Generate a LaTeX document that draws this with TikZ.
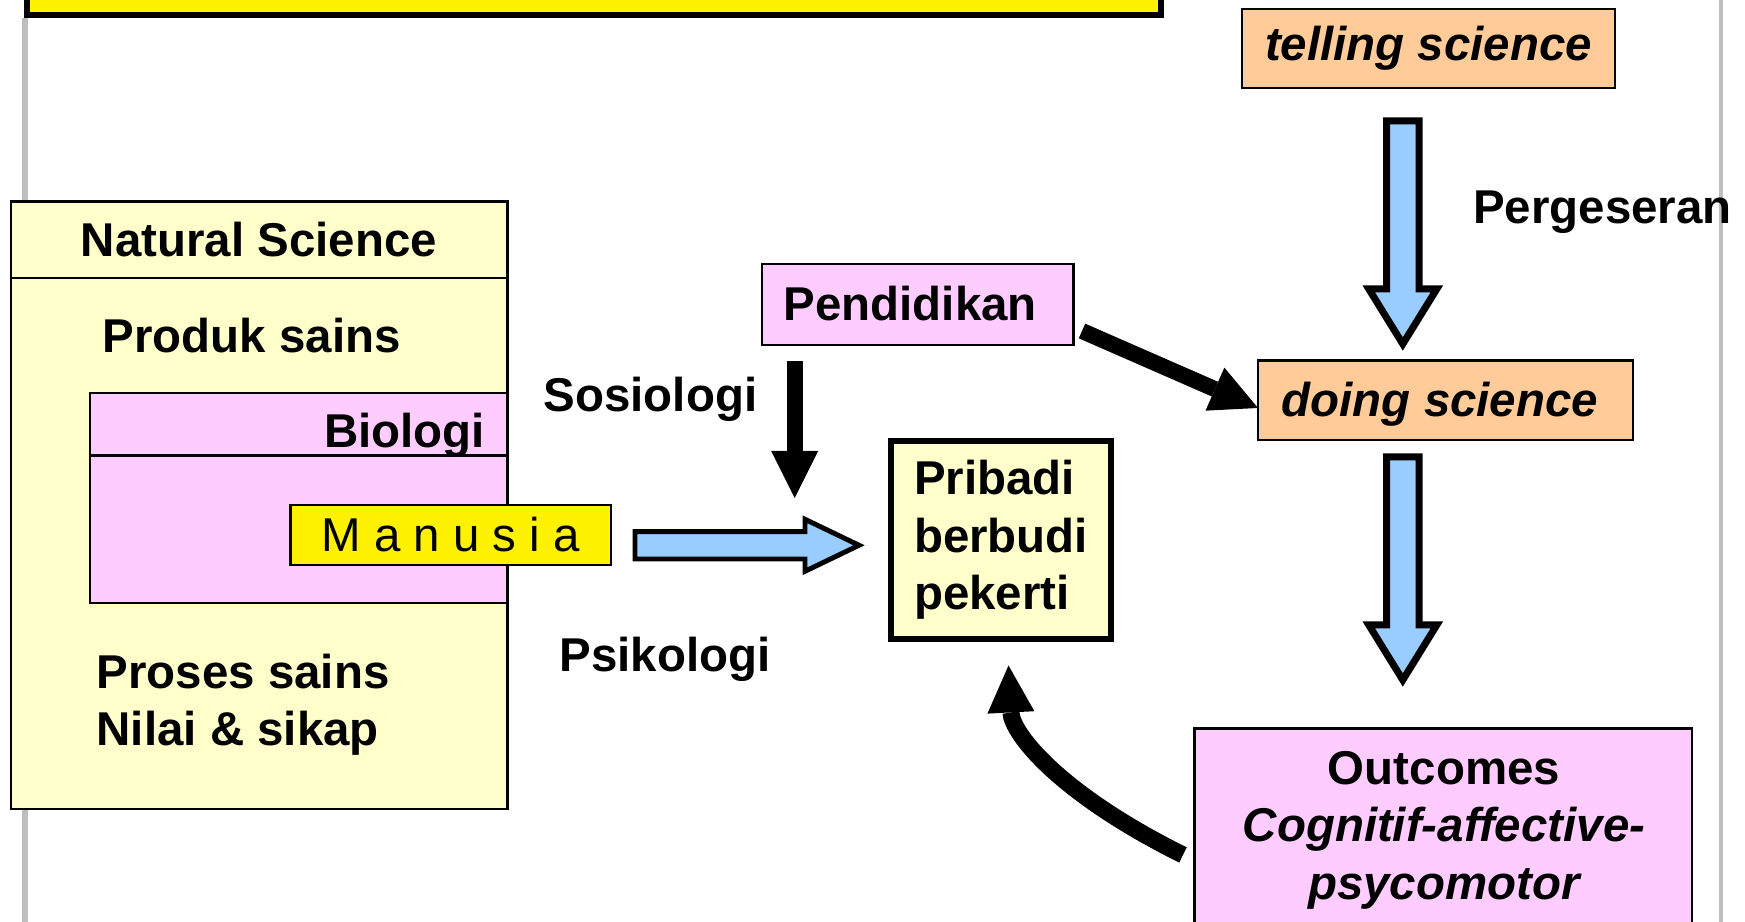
\documentclass[tikz,border=0pt]{standalone}
\usepackage{fontspec}
\setmainfont{Liberation Sans}
\usetikzlibrary{arrows.meta}
\definecolor{paleyellow}{HTML}{FFFFCC}
\definecolor{palepink}{HTML}{FFCCFF}
\definecolor{paleorange}{HTML}{FFCC99}
\definecolor{skyblue}{HTML}{99CCFF}
\begin{document}
\begin{tikzpicture}[
  every node/.style={font=\fontsize{13.5}{16.4}\selectfont\bfseries, inner sep=0pt},
  box/.style={draw, line width=0.7pt, rectangle},
  blockarrow/.style={draw, line width=2pt, fill=skyblue, line join=miter},
  thickarrow/.style={line width=0.16cm, -{Triangle[length=0.47cm,width=0.47cm,line width=0pt]}}
]
  \useasboundingbox (0,0) rectangle (17.45,9.22);
  \clip (0,0) rectangle (17.45,9.22);
  % slide edges
  \draw [black!25, line width=0.05cm] (0.25,9.04) -- (0.25,0);
  \draw [black!25, line width=0.04cm] (17.21,9.22) -- (17.21,0);
  % title bar
  \node [box, line width=1.6pt, fill=yellow, minimum width=11.34cm, minimum height=0.6cm] (titlebar) at (5.94,9.37) {};
  % natural science block
  \node [box, fill=paleyellow, minimum width=4.965cm, minimum height=6.075cm] (nsbox) at (2.5925,4.1675) {};
  \draw [line width=0.7pt] ([yshift=-0.78cm]nsbox.north west) -- ([yshift=-0.78cm]nsbox.north east);
  \node [anchor=base] (nstitle) at (2.59,6.65) {Natural Science};
  \node [anchor=base west] (produk) at (1.02,5.693) {Produk sains};
  \node [box, fill=palepink, minimum width=4.175cm, minimum height=2.1cm] (biobox) at (2.9875,4.24) {};
  \draw [line width=0.7pt] ([yshift=-0.637cm]biobox.north west) -- ([yshift=-0.637cm]biobox.north east);
  \node [anchor=base east] (biologi) at (4.856,4.74) {Biologi};
  \node [box, fill=yellow, minimum width=3.204cm, minimum height=0.6cm, font=\fontsize{13.5}{16.4}\selectfont] (manusia) at (4.508,3.87) {M a n u s i a};
  \node [anchor=base west] (proses) at (0.96,2.337) {Proses sains};
  \node [anchor=base west] (nilai) at (0.96,1.76) {Nilai \& sikap};
  % middle part
  \node [anchor=base west] (sosiologi) at (5.43,5.103) {Sosiologi};
  \node [anchor=base west] (psikologi) at (5.59,2.503) {Psikologi};
  \node [box, fill=palepink, minimum width=3.115cm, minimum height=0.81cm] (pend) at (9.1775,6.175) {};
  \node [anchor=base west] (pendtext) at (7.83,6.013) {Pendidikan};
  \coordinate (downtop) at (7.947,5.61);
  \coordinate (downtip) at (7.947,4.24);
  \draw [thickarrow] (downtop) -- (downtip);
  \coordinate (mantail) at (6.35,3.767);
  \draw [blockarrow, line width=1.4pt] (mantail) ++(0,0.137) -- ++(1.70,0) -- ++(0,0.123) -- ++(0.54,-0.26)
    -- ++(-0.54,-0.26) -- ++(0,0.123) -- ++(-1.70,0) -- cycle;
  \node [box, line width=1.6pt, fill=paleyellow, minimum width=2.2cm, minimum height=1.98cm, align=left] (pribadi) at (10.01,3.82) {Pribadi\\berbudi\\pekerti};
  % right part
  \node [box, fill=paleorange, minimum width=3.73cm, minimum height=0.79cm, font=\fontsize{13.5}{16.4}\selectfont\bfseries\itshape] (telling) at (14.285,8.735) {telling science};
  \coordinate (shiftonetop) at (14.028,8.01);
  \draw [blockarrow] (shiftonetop) ++(-0.1625,0) -- ++(0.325,0) -- ++(0,-1.68) -- ++(0.1775,0) -- ++(-0.34,-0.55)
    -- ++(-0.34,0.55) -- ++(0.1775,0) -- cycle;
  \node [anchor=base west] (pergeseran) at (14.726,6.98) {Pergeseran};
  \node [box, fill=paleorange, minimum width=3.75cm, minimum height=0.793cm] (doing) at (14.455,5.2165) {};
  \node [anchor=base west, font=\fontsize{13.5}{16.4}\selectfont\bfseries\itshape] (doingtext) at (12.81,5.053) {doing science};
  \coordinate (pendout) at (10.82,5.91);
  \coordinate (doingin) at (12.58,5.14);
  \draw [thickarrow] (pendout) -- (doingin);
  \coordinate (shifttwotop) at (14.028,4.65);
  \draw [blockarrow] (shifttwotop) ++(-0.1625,0) -- ++(0.325,0) -- ++(0,-1.68) -- ++(0.1775,0) -- ++(-0.34,-0.55)
    -- ++(-0.34,0.55) -- ++(0.1775,0) -- cycle;
  \node [box, fill=palepink, minimum width=4.976cm, minimum height=2.134cm] (outbox) at (14.432,0.87) {};
  \node [align=center] (outcomes) at (14.44,0.918) {Outcomes\\\itshape Cognitif-affective-\\\itshape psycomotor};
  % back to pribadi
  \coordinate (outcomesout) at (11.83,0.67);
  \coordinate (pribadiin) at (10.085,2.565);
  \draw [thickarrow, line width=0.17cm] (outcomesout) .. controls (10.6,1.28) and (10.12,1.88) .. (pribadiin);
\end{tikzpicture}
\end{document}
